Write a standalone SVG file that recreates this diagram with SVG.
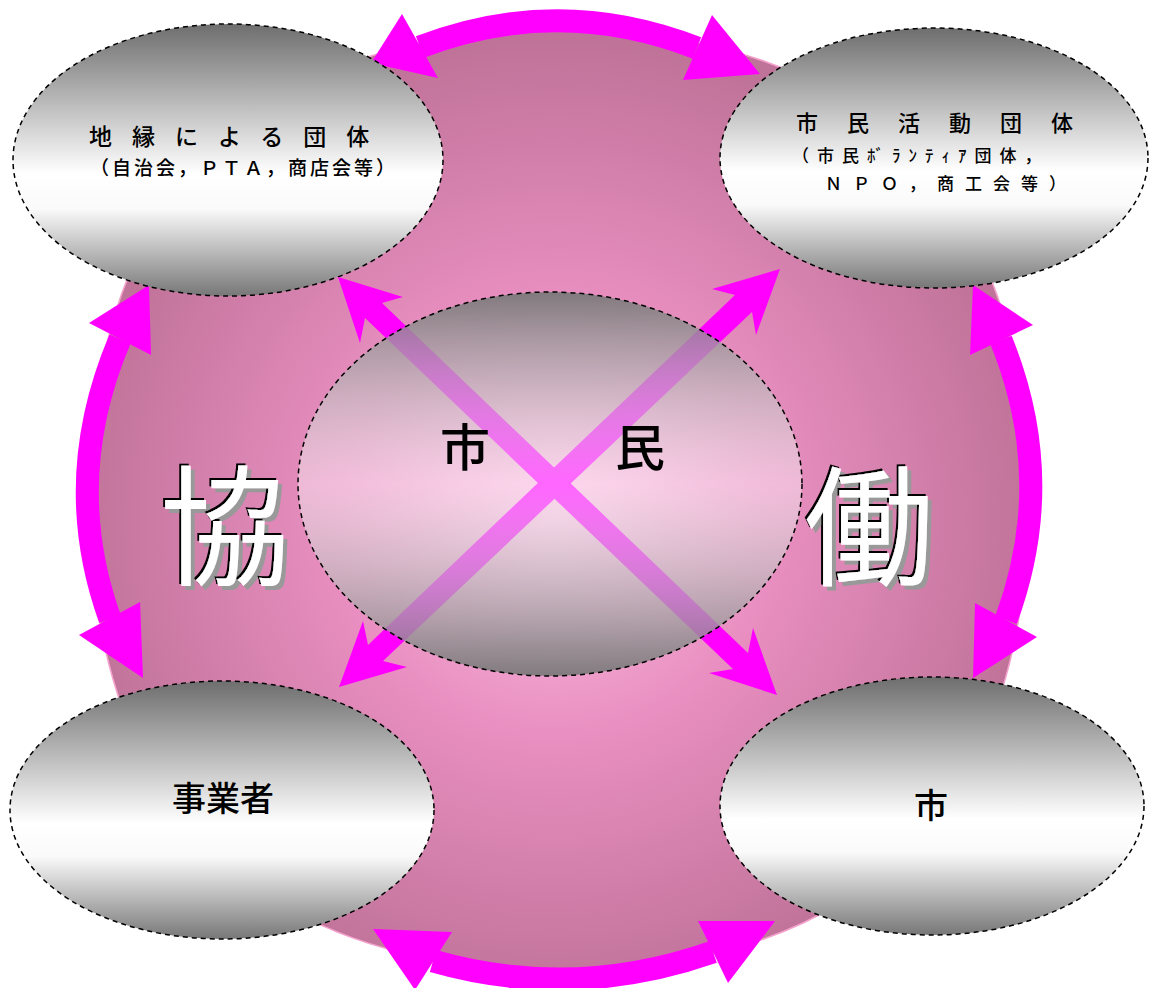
<svg xmlns="http://www.w3.org/2000/svg" width="1150" height="988" viewBox="0 0 1150 988">
<defs>
<radialGradient id="pinkBg" cx="555" cy="520" r="480" gradientUnits="userSpaceOnUse">
<stop offset="0" stop-color="#fcc2e4"/>
<stop offset="0.45" stop-color="#e98fc1"/>
<stop offset="1" stop-color="#c07399"/>
</radialGradient>
<linearGradient id="grayV" x1="0" y1="0" x2="0" y2="1">
<stop offset="0" stop-color="#6e6e6e"/>
<stop offset="0.55" stop-color="#ffffff"/>
<stop offset="0.68" stop-color="#fafafa"/>
<stop offset="1" stop-color="#777777"/>
</linearGradient>
<linearGradient id="centerV" x1="0" y1="0" x2="0" y2="1">
<stop offset="0" stop-color="#777777" stop-opacity="0.92"/>
<stop offset="0.5" stop-color="#ffffff" stop-opacity="0.4"/>
<stop offset="1" stop-color="#777777" stop-opacity="0.92"/>
</linearGradient>
<filter id="emboss" x="-20%" y="-20%" width="140%" height="140%">
<feOffset in="SourceAlpha" dx="4" dy="4" result="o1"/>
<feFlood flood-color="#999999"/>
<feComposite in2="o1" operator="in" result="gray"/>
<feOffset in="SourceAlpha" dx="-2" dy="-2" result="o2"/>
<feFlood flood-color="#000000"/>
<feComposite in2="o2" operator="in" result="blk"/>
<feMerge><feMergeNode in="gray"/><feMergeNode in="blk"/><feMergeNode in="SourceGraphic"/></feMerge>
</filter>
<style>
.band{fill:none;stroke:#ff00ff;stroke-width:23}
.head{fill:#ff00ff}
.node{fill:url(#grayV);stroke:#000;stroke-width:1.5;stroke-dasharray:5 4}
.jp{font-family:"Noto Sans CJK JP","Noto Sans CJK SC",sans-serif;fill:#000;font-weight:500}
.big{font-family:"Noto Sans CJK JP","Noto Sans CJK SC",sans-serif;font-size:130px;text-anchor:middle;fill:#fff;filter:url(#emboss)}
</style>
</defs>

<g id="background">
<path d="M 90 500 C 90 195 255 30 560 30 C 865 30 1028 195 1028 500 C 1028 805 865 970 560 970 C 255 970 90 805 90 500 Z" fill="url(#pinkBg)" stroke="#f5a0cc" stroke-width="1.5"/>
</g>

<g id="connectors">
<path class="band" d="M 420 47 Q 558 -6 697 48"/>
<polygon class="head" points="402,14 438,78 371,63"/>
<polygon class="head" points="712,15 683,80 760,74"/>
<path class="band" d="M 433 961 Q 573 1001 713 952"/>
<polygon class="head" points="452,932 415,990 373,929"/>
<polygon class="head" points="698,921 728,983 775,921"/>
<path class="band" d="M 120 339 Q 60 480 110 619"/>
<polygon class="head" points="89,323 151,355 149,285"/>
<polygon class="head" points="79,635 140,602 143,678"/>
<path class="band" d="M 1001 340 Q 1058 480 1006 620"/>
<polygon class="head" points="1033,325 970,355 973,285"/>
<polygon class="head" points="1037,637 975,603 973,678"/>
</g>

<g id="node-chien">
<ellipse class="node" cx="228" cy="160" rx="215" ry="136"/>
<text class="jp" x="89" y="145" font-size="23" letter-spacing="20">地縁による団体</text>
<text class="jp" x="90" y="175" font-size="19" letter-spacing="3">（自治会，ＰＴＡ，商店会等）</text>
</g>

<g id="node-shimin-katsudo">
<ellipse class="node" cx="934" cy="158" rx="214" ry="130"/>
<text class="jp" x="796" y="131" font-size="22" letter-spacing="29">市民活動団体</text>
<text class="jp" x="792" y="162" font-size="17" letter-spacing="8">（市民ﾎﾞﾗﾝﾃｨｱ団体，</text>
<text class="jp" x="825" y="190" font-size="17" letter-spacing="11">ＮＰＯ，商工会等）</text>
</g>

<g id="node-jigyosha">
<ellipse class="node" cx="222" cy="810" rx="212" ry="129"/>
<text class="jp" x="223" y="811" font-size="34" text-anchor="middle">事業者</text>
</g>

<g id="node-shi">
<ellipse class="node" cx="932" cy="806" rx="212" ry="129"/>
<text class="jp" x="931" y="818" font-size="34" text-anchor="middle">市</text>
</g>

<g id="cross-arrows">
<polygon class="head" points="338,277 403,297 382,303 748,653 753,628 777,695 709,673 733,669 365,318 360,343"/>
<polygon class="head" points="780,269 756,335 752,312 383,661 407,667 339,687 363,621 368,645 735,295 712,289"/>
</g>

<g id="node-shimin">
<ellipse cx="550" cy="484" rx="252" ry="192" fill="url(#centerV)" stroke="#000" stroke-width="1.5" stroke-dasharray="5 4"/>
<text class="jp" x="465" y="466" font-size="50" text-anchor="middle">市</text>
<text class="jp" x="640" y="466" font-size="50" text-anchor="middle">民</text>
</g>

<g id="label-kyo">
<text class="big" x="225" y="575">協</text>
</g>

<g id="label-do">
<text class="big" x="869" y="575">働</text>
</g>
</svg>
